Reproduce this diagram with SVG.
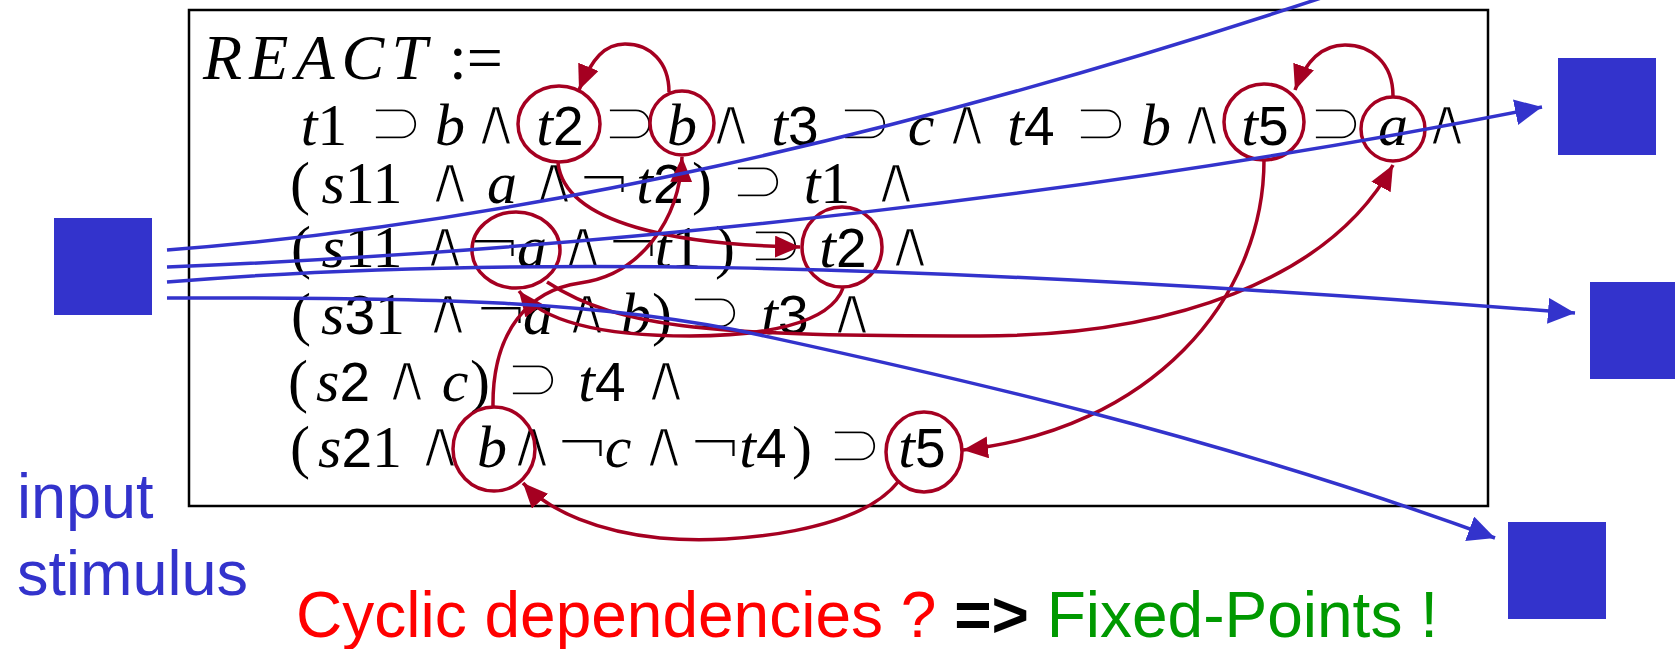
<svg xmlns="http://www.w3.org/2000/svg" width="1675" height="649" viewBox="0 0 1675 649">
<defs>
<style>
.ln{text-anchor:middle;font-family:"Liberation Serif",serif;font-size:60px;fill:#000}
.i{font-family:"Liberation Serif",serif;font-style:italic;font-size:60px}
.r{font-family:"Liberation Serif",serif;font-size:60px}
.s{font-family:"Liberation Sans",Arial,sans-serif;font-size:55px}
.o{font-family:"DejaVu Sans",sans-serif;font-size:68px;stroke:#fff;stroke-width:3.2px}
.ring{fill:none;stroke:#A50021;stroke-width:3.5}
.red{fill:none;stroke:#A50021;stroke-width:3.5}
.blue{fill:none;stroke:#3333CC;stroke-width:3.5}
.sq{fill:#3333CC}
.lbl{font-family:"Liberation Sans",Arial,sans-serif;font-size:63px}
</style>
<marker id="ar" markerUnits="userSpaceOnUse" markerWidth="26" markerHeight="22" refX="25" refY="11" orient="auto"><path d="M0,0 L25,11 L0,22 z" fill="#A50021"/></marker>
<marker id="ab" markerUnits="userSpaceOnUse" markerWidth="28" markerHeight="26" refX="27" refY="13" orient="auto"><path d="M0,0 L27,13 L0,26 z" fill="#3333CC"/></marker>
</defs>
<rect x="0" y="0" width="1675" height="649" fill="#fff"/>
<g id="formula-box">
<rect x="189" y="10" width="1299" height="496" fill="none" stroke="#000" stroke-width="2.5"/>
<text x="203" y="79" font-family="Liberation Serif, serif" font-size="64"><tspan font-style="italic" textLength="224" lengthAdjust="spacing">REACT</tspan><tspan x="449">:=</tspan></text>
<text id="line1" class="ln" y="145"><tspan x="324" class="i">t</tspan><tspan class="r">1</tspan><tspan x="396" class="o">⊃</tspan><tspan x="450" class="i">b</tspan><tspan x="496" class="o">∧</tspan><tspan x="560" class="i">t</tspan><tspan class="s">2</tspan><tspan x="630" class="o">⊃</tspan><tspan x="682" class="i">b</tspan><tspan x="731" class="o">∧</tspan><tspan x="795" class="i">t</tspan><tspan class="s">3</tspan><tspan x="865" class="o">⊃</tspan><tspan x="921" class="i">c</tspan><tspan x="967" class="o">∧</tspan><tspan x="1031" class="i">t</tspan><tspan class="s">4</tspan><tspan x="1101" class="o">⊃</tspan><tspan x="1156" class="i">b</tspan><tspan x="1202" class="o">∧</tspan><tspan x="1265" class="i">t</tspan><tspan class="s">5</tspan><tspan x="1336" class="o">⊃</tspan><tspan x="1393" class="i">a</tspan><tspan x="1447" class="o">∧</tspan></text>
<text id="line2" class="ln" y="203"><tspan x="300" class="r">(</tspan><tspan x="362" class="i">s</tspan><tspan class="r">11</tspan><tspan x="450" class="o">∧</tspan><tspan x="502" class="i">a</tspan><tspan x="554" class="o">∧</tspan><tspan x="604" class="o">¬</tspan><tspan x="660" class="i">t</tspan><tspan class="s">2</tspan><tspan x="702" class="r">)</tspan><tspan x="758" class="o">⊃</tspan><tspan x="827" class="i">t</tspan><tspan class="r">1</tspan><tspan x="896" class="o">∧</tspan></text>
<text id="line3" class="ln" y="267"><tspan x="301" class="r">(</tspan><tspan x="362" class="i">s</tspan><tspan class="r">11</tspan><tspan x="445" class="o">∧</tspan><tspan x="494" class="o">¬</tspan><tspan x="532" class="i">a</tspan><tspan x="583" class="o">∧</tspan><tspan x="633" class="o">¬</tspan><tspan x="678" class="i">t</tspan><tspan class="r">1</tspan><tspan x="725" class="r">)</tspan><tspan x="776" class="o">⊃</tspan><tspan x="843" class="i">t</tspan><tspan class="s">2</tspan><tspan x="910" class="o">∧</tspan></text>
<text id="line4" class="ln" y="334"><tspan x="301" class="r">(</tspan><tspan x="363" class="i">s</tspan><tspan class="s">3</tspan><tspan class="r">1</tspan><tspan x="448" class="o">∧</tspan><tspan x="501" class="o">¬</tspan><tspan x="538" class="i">a</tspan><tspan x="587" class="o">∧</tspan><tspan x="636" class="i">b</tspan><tspan x="662" class="r">)</tspan><tspan x="715" class="o">⊃</tspan><tspan x="785" class="i">t</tspan><tspan class="s">3</tspan><tspan x="852" class="o">∧</tspan></text>
<text id="line5" class="ln" y="401"><tspan x="298" class="r">(</tspan><tspan x="343" class="i">s</tspan><tspan class="s">2</tspan><tspan x="407" class="o">∧</tspan><tspan x="455" class="i">c</tspan><tspan x="480" class="r">)</tspan><tspan x="533" class="o">⊃</tspan><tspan x="602" class="i">t</tspan><tspan class="s">4</tspan><tspan x="666" class="o">∧</tspan></text>
<text id="line6" class="ln" y="467"><tspan x="300" class="r">(</tspan><tspan x="360" class="i">s</tspan><tspan class="s">2</tspan><tspan class="r">1</tspan><tspan x="440" class="o">∧</tspan><tspan x="492" class="i">b</tspan><tspan x="532" class="o">∧</tspan><tspan x="582" class="o">¬</tspan><tspan x="618" class="i">c</tspan><tspan x="664" class="o">∧</tspan><tspan x="715" class="o">¬</tspan><tspan x="763" class="i">t</tspan><tspan class="s">4</tspan><tspan x="802" class="r">)</tspan><tspan x="855" class="o">⊃</tspan><tspan x="922" class="i">t</tspan><tspan class="s">5</tspan></text>
</g>
<g id="ring-t2-l1"><ellipse class="ring" cx="559" cy="124" rx="41" ry="38"/></g>
<g id="ring-b-l1"><ellipse class="ring" cx="682" cy="123" rx="32" ry="32"/></g>
<g id="ring-t5-l1"><ellipse class="ring" cx="1264" cy="122" rx="40" ry="38"/></g>
<g id="ring-a-l1"><ellipse class="ring" cx="1393" cy="129" rx="32" ry="32"/></g>
<g id="ring-nota-l3"><ellipse class="ring" cx="516" cy="250" rx="44" ry="38"/></g>
<g id="ring-t2-l3"><ellipse class="ring" cx="842" cy="247" rx="40" ry="40"/></g>
<g id="ring-b-l6"><ellipse class="ring" cx="494" cy="449" rx="41" ry="42"/></g>
<g id="ring-t5-l6"><ellipse class="ring" cx="924" cy="452" rx="38" ry="40"/></g>
<g id="input-square"><rect class="sq" x="54" y="218" width="98" height="97"/></g>
<g id="output-square-1"><rect class="sq" x="1558" y="58" width="98" height="97"/></g>
<g id="output-square-2"><rect class="sq" x="1590" y="282" width="98" height="97"/></g>
<g id="output-square-3"><rect class="sq" x="1508" y="522" width="98" height="97"/></g>
<g id="connectors">
<path class="red" d="M669,92 C669,62 650,44 625,44 C605,44 592,58 579,90" marker-end="url(#ar)"/>
<path class="red" d="M1393,96 C1393,62 1370,45 1345,45 C1322,45 1306,60 1295,90" marker-end="url(#ar)"/>
<path class="red" d="M558,163 C565,225 680,245 800,247" marker-end="url(#ar)"/>
<path class="red" d="M547,282 C620,330 720,336 980,336 C1170,336 1330,280 1393,165" marker-end="url(#ar)"/>
<path class="red" d="M843,288 C830,325 760,336 690,336 C610,336 545,325 519,291" marker-end="url(#ar)"/>
<path class="red" d="M493,407 C492,330 530,290 580,283 C640,275 680,220 682,157" marker-end="url(#ar)"/>
<path class="red" d="M1264,160 C1264,300 1150,430 963,450" marker-end="url(#ar)"/>
<path class="red" d="M898,482 C860,530 740,545 660,538 C600,532 550,512 523,483" marker-end="url(#ar)"/>
<path class="blue" d="M167,250 C500,225 900,140 1360,-15"/>
<path class="blue" d="M167,267 C600,250 1100,195 1542,107" marker-end="url(#ab)"/>
<path class="blue" d="M167,282 C480,256 900,260 1575,313" marker-end="url(#ab)"/>
<path class="blue" d="M167,298 C420,297 600,300 760,335 C920,370 1200,430 1495,538" marker-end="url(#ab)"/>
</g>
<g id="labels">
<text x="17" y="518" class="lbl" fill="#3333CC">input</text>
<text x="17" y="595" class="lbl" fill="#3333CC">stimulus</text>
<text x="296" y="637" class="lbl" style="font-size:64px"><tspan fill="#FF0000">Cyclic dependencies ? </tspan><tspan fill="#000" font-weight="bold">=&gt;</tspan><tspan fill="#009900"> Fixed-Points !</tspan></text>
</g>
</svg>
